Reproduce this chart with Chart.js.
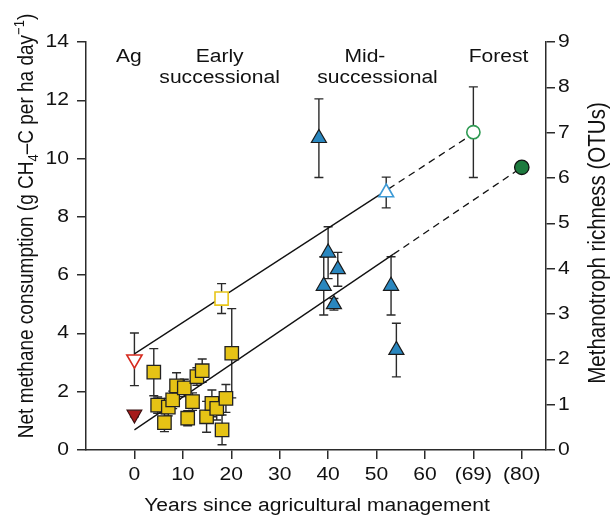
<!DOCTYPE html>
<html><head><meta charset="utf-8">
<script src="https://cdn.jsdelivr.net/npm/chart.js@4.4.1/dist/chart.umd.min.js"></script>
<style>html,body{margin:0;padding:0;background:#fff;}#wrap{width:613px;height:518px;position:relative;}</style>
</head><body><div id="wrap"><canvas id="c"></canvas></div>
<script>
// ---- data ----
// Net methane consumption (left axis), filled symbols
const agX = [0];
const agY = [1.22];
const agErr = [0.08];
const earlyX = [4.0, 4.8, 6.2, 7.0, 7.9, 8.7, 10.3, 11.0, 12.0, 12.9, 14.0, 14.9, 16.0, 17.0, 18.1, 18.9, 20.1];
const earlyY = [2.67, 1.54, 0.94, 1.47, 1.72, 2.20, 2.13, 1.09, 1.66, 2.52, 2.72, 1.14, 1.60, 1.43, 0.69, 1.77, 3.32];
const earlyErr = [0.81, 0.28, 0.31, 0.3, 0.3, 0.45, 0.3, 0.26, 0.3, 0.3, 0.4, 0.53, 0.46, 0.4, 0.51, 0.48, 1.53];
const midX = [38.1, 40.0, 42.0, 39.1, 41.2, 53.0, 54.1];
const midY = [10.7, 6.77, 6.2, 5.63, 5.0, 5.63, 3.43];
const midErr = [1.35, 0.89, 0.58, 1.0, 0.2, 1.0, 0.92];
const forestX = [80];
const forestY = [9.7];
// Methanotroph richness (right axis), open symbols
const richX = [0, 18, 52, 70];
const richY = [2.0, 3.34, 5.68, 7.01];
const richErr = [0.58, 0.33, 0.34, 1.0];
// trend lines (solid part, then dashed extrapolation)
const methTrendX = [0, 53.5, 80];
const methTrendY = [0.69, 6.72, 9.7];
const richTrendX = [0, 52.5, 70];
const richTrendY = [2.12, 5.76, 6.98];
// tick labels
const xTickValues = [0, 10, 20, 30, 40, 50, 60, 70, 80];
const xTickLabels = ['0', '10', '20', '30', '40', '50', '60', '(69)', '(80)'];
const groupLines = ['Ag', 'Early', 'successional', 'Mid-', 'successional', 'Forest'];

// ---- rendering ----
const SX = 1.17; // horizontal widening of the reference lettering
const _fill = CanvasRenderingContext2D.prototype.fillText;
CanvasRenderingContext2D.prototype.fillText = function (t, x, y, mw) {
  const m = this.getTransform();
  if (Math.abs(m.b) < 1e-9 && Math.abs(m.c) < 1e-9) {
    this.save(); this.translate(x, y); this.scale(SX, 1); _fill.call(this, t, 0, 0); this.restore();
  } else { _fill.call(this, t, x, y, mw); }
};

const FONT = '"Liberation Sans", Arial, Helvetica, sans-serif';
const AX = '#2b2b2b';
const pts = (xs, ys) => xs.map((x, i) => ({x: x, y: ys[i]}));

const errorBars = {
  id: 'errorBars',
  beforeDatasetsDraw(chart) {
    const ctx = chart.ctx;
    ctx.save();
    ctx.strokeStyle = '#2a2a2a'; ctx.lineWidth = 1.4;
    chart.data.datasets.forEach(ds => {
      if (!ds.errors) return;
      const ys = chart.scales[ds.yAxisID || 'y'], xs = chart.scales.x;
      ds.data.forEach((p, j) => {
        const e = ds.errors[j]; if (!e) return;
        const x = xs.getPixelForValue(p.x);
        const a = ys.getPixelForValue(p.y + e), b = ys.getPixelForValue(p.y - e);
        ctx.beginPath();
        ctx.moveTo(x, a); ctx.lineTo(x, b);
        ctx.moveTo(x - 4.5, a); ctx.lineTo(x + 4.5, a);
        ctx.moveTo(x - 4.5, b); ctx.lineTo(x + 4.5, b);
        ctx.stroke();
      });
    });
    ctx.restore();
  }
};

const texts = {
  id: 'texts',
  afterDraw(chart) {
    const ctx = chart.ctx, xs = chart.scales.x;
    ctx.save();
    ctx.fillStyle = '#111';
    // group labels
    ctx.font = '18px ' + FONT; ctx.textAlign = 'center'; ctx.textBaseline = 'alphabetic';
    const gx = [-1.15, 17.6, 17.6, 47.6, 50.2, 75.2];
    const gy = [61.7, 61.7, 83.3, 61.7, 83.3, 61.7];
    groupLines.forEach((t, i) => ctx.fillText(t, xs.getPixelForValue(gx[i]), gy[i]));
    // x title
    ctx.fillText('Years since agricultural management', 317, 511);
    // left title with sub/superscript
    const parts = [['Net methane consumption (g CH', 0], ['4', 1], ['\u2013C per ha day', 0], ['\u22121', -1], [')', 0]];
    const big = '19px ' + FONT, small = '13px ' + FONT;
    let total = 0;
    parts.forEach(p => { ctx.font = p[1] ? small : big; total += ctx.measureText(p[0]).width; });
    ctx.save();
    ctx.translate(33, 226); ctx.scale(SX, 1); ctx.rotate(-Math.PI / 2);
    ctx.textAlign = 'left';
    let cx = -total / 2;
    parts.forEach(p => {
      ctx.font = p[1] ? small : big;
      const dy = p[1] === 1 ? 4 : (p[1] === -1 ? -8 : 0);
      ctx.fillText(p[0], cx, dy);
      cx += ctx.measureText(p[0]).width;
    });
    ctx.restore();
    // right title (reads bottom to top)
    ctx.save();
    ctx.font = '20.5px ' + FONT; ctx.textAlign = 'center';
    ctx.translate(605, 243); ctx.scale(SX, 1); ctx.rotate(-Math.PI / 2);
    ctx.fillText('Methanotroph richness (OTUs)', 0, 0);
    ctx.restore();
    ctx.restore();
  }
};

const gridCommon = {drawOnChartArea: false, drawTicks: true, tickLength: 9, color: AX, lineWidth: 1.5};
const tickFont = {family: FONT, size: 18};

new Chart(document.getElementById('c'), {
  type: 'scatter',
  data: {
    datasets: [
      {label: 'meth trend', data: pts(methTrendX, methTrendY), showLine: true, pointRadius: 0, borderColor: '#111', borderWidth: 1.3,
        segment: {borderDash: c => c.p0DataIndex === 1 ? [7, 5] : undefined}, order: 10, yAxisID: 'y'},
      {label: 'rich trend', data: pts(richTrendX, richTrendY), showLine: true, pointRadius: 0, borderColor: '#111', borderWidth: 1.3,
        segment: {borderDash: c => c.p0DataIndex === 1 ? [7, 5] : undefined}, order: 10, yAxisID: 'y2'},
      {label: 'Ag', data: pts(agX, agY), errors: agErr, pointStyle: 'triangle', rotation: 180, pointRadius: 8.5,
        backgroundColor: '#a61b1b', borderColor: '#3a1010', borderWidth: 1.2, yAxisID: 'y', order: 1},
      {label: 'Early', data: pts(earlyX, earlyY), errors: earlyErr, pointStyle: 'rect', pointRadius: 9.5,
        backgroundColor: '#e6c315', borderColor: '#222', borderWidth: 1.3, yAxisID: 'y', order: 1},
      {label: 'Mid', data: pts(midX, midY), errors: midErr, pointStyle: 'triangle', pointRadius: 8.7,
        backgroundColor: '#2a87bf', borderColor: '#1a1a1a', borderWidth: 1.2, yAxisID: 'y', order: 1},
      {label: 'Forest', data: pts(forestX, forestY), pointStyle: 'circle', pointRadius: 7.2,
        backgroundColor: '#1d7a3e', borderColor: '#111', borderWidth: 1.3, yAxisID: 'y', order: 1},
      {label: 'Richness', data: pts(richX, richY), errors: richErr, yAxisID: 'y2', order: 1,
        pointStyle: ['triangle', 'rect', 'triangle', 'circle'], rotation: [180, 0, 0, 0], pointRadius: [8.8, 9.3, 8.5, 6.6],
        backgroundColor: '#ffffff', borderColor: ['#d62a1e', '#e8c51a', '#3d9ad6', '#2e9a52'], borderWidth: 1.6}
    ]
  },
  options: {
    responsive: true, maintainAspectRatio: false, animation: false, events: [],
    layout: {padding: {top: 42, left: 0, right: 0, bottom: 0}},
    plugins: {legend: {display: false}, tooltip: {enabled: false}},
    scales: {
      x: {type: 'linear', min: -10, max: 85,
        afterBuildTicks: s => { s.ticks = xTickValues.map(v => ({value: v})); },
        afterFit: s => { s.height = 68; },
        grid: gridCommon, border: {display: true, color: AX, width: 1.5},
        ticks: {font: tickFont, color: '#111', padding: 5, autoSkip: false, maxRotation: 0,
          callback: v => { const i = xTickValues.indexOf(v); return i >= 0 ? xTickLabels[i] : ''; }}},
      y: {type: 'linear', position: 'left', min: 0, max: 14,
        afterFit: s => { s.width = 86; },
        grid: gridCommon, border: {display: true, color: AX, width: 1.5},
        ticks: {font: tickFont, color: '#111', padding: 8, stepSize: 2}},
      y2: {type: 'linear', position: 'right', min: 0, max: 9,
        afterFit: s => { s.width = 67; },
        grid: gridCommon, border: {display: true, color: AX, width: 1.5},
        ticks: {font: tickFont, color: '#111', padding: 3, stepSize: 1}}
    }
  },
  plugins: [errorBars, texts]
});
</script>
</body></html>
